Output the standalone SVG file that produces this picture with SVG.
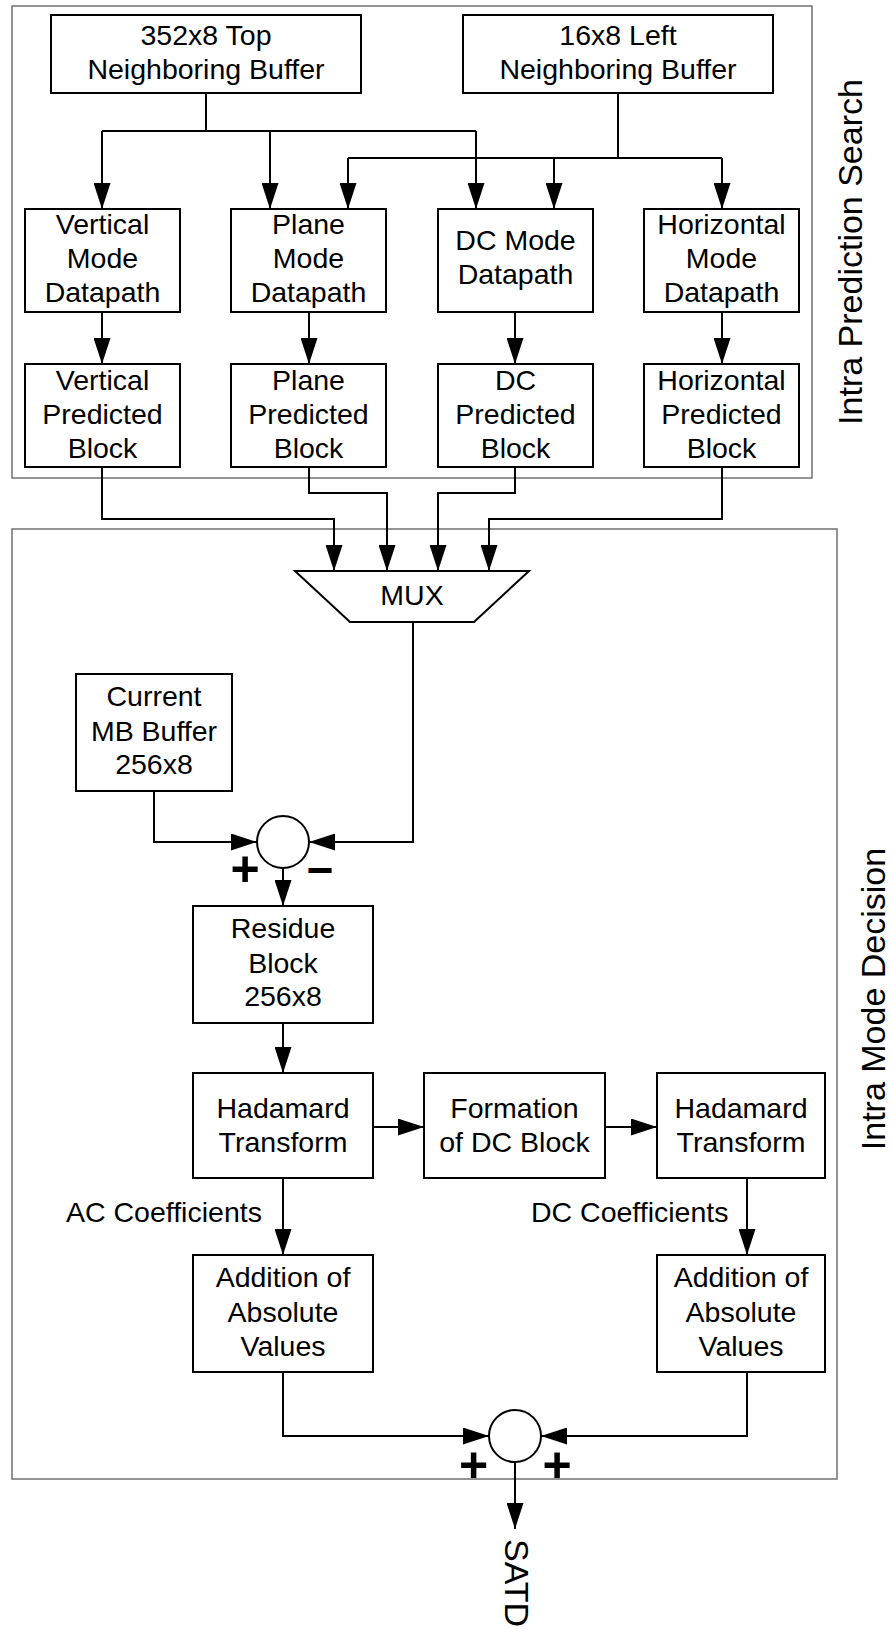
<svg xmlns="http://www.w3.org/2000/svg" width="891" height="1629" viewBox="0 0 891 1629">
  <style>
    .frame { fill: none; stroke: #707070; stroke-width: 1.5; }
    .box { fill: #ffffff; stroke: #000000; stroke-width: 2; }
    .wire { fill: none; stroke: #000000; stroke-width: 2; }
    .arrow { fill: none; stroke: #000000; stroke-width: 2; marker-end: url(#head); }
    .lbl { font-family: "Liberation Sans", Arial, sans-serif; font-size: 28.5px; fill: #000000; text-anchor: middle; }
    .side { font-family: "Liberation Sans", Arial, sans-serif; font-size: 34px; fill: #000000; text-anchor: middle; }
    .sign { font-family: "Liberation Sans", Arial, sans-serif; font-weight: bold; font-size: 50px; fill: #000000; text-anchor: middle; }
  </style>
  <defs>
    <marker id="head" viewBox="0 0 26 17" refX="26" refY="8.5" markerWidth="26" markerHeight="17" markerUnits="userSpaceOnUse" orient="auto">
      <path d="M0,0 L26,8.5 L0,17 Z" fill="#000000"/>
    </marker>
  </defs>

  <rect width="891" height="1629" fill="#ffffff"/>

  <!-- section frames -->
  <g id="frame-search">
    <rect class="frame" x="12" y="6" width="800" height="472"/>
    <text class="side" transform="translate(862,252) rotate(-90)">Intra Prediction Search</text>
  </g>
  <g id="frame-decision">
    <rect class="frame" x="12" y="529" width="825" height="950"/>
    <text class="side" transform="translate(885,999) rotate(-90)">Intra Mode Decision</text>
  </g>

  <!-- connectors -->
  <g id="connectors">
    <!-- top neighbouring buffer bus -->
    <path class="wire" d="M206,93 V131 M102,131 H476"/>
    <path class="arrow" d="M102,131 V209"/>
    <path class="arrow" d="M270,131 V209"/>
    <path class="arrow" d="M476,131 V209"/>
    <!-- left neighbouring buffer bus -->
    <path class="wire" d="M618,93 V158 M348,158 H722"/>
    <path class="arrow" d="M348,158 V209"/>
    <path class="arrow" d="M554,158 V209"/>
    <path class="arrow" d="M722,158 V209"/>
    <!-- datapath to predicted block -->
    <path class="arrow" d="M102,312 V364"/>
    <path class="arrow" d="M309,312 V364"/>
    <path class="arrow" d="M515,312 V364"/>
    <path class="arrow" d="M722,312 V364"/>
    <!-- predicted blocks into MUX -->
    <path class="arrow" d="M102,467 V519 H334 V571"/>
    <path class="arrow" d="M309,467 V493 H387 V571"/>
    <path class="arrow" d="M515,467 V493 H438 V571"/>
    <path class="arrow" d="M722,467 V519 H489 V571"/>
    <!-- subtraction -->
    <path class="arrow" d="M413,615 V842 H309"/>
    <path class="arrow" d="M154,791 V842 H257"/>
    <path class="arrow" d="M283,868 V906"/>
    <path class="arrow" d="M283,1023 V1073"/>
    <!-- transform chain -->
    <path class="arrow" d="M373,1127 H424"/>
    <path class="arrow" d="M605,1127 H657"/>
    <path class="arrow" d="M283,1178 V1255"/>
    <path class="arrow" d="M747,1178 V1255"/>
    <!-- final sum -->
    <path class="arrow" d="M283,1372 V1436 H489"/>
    <path class="arrow" d="M747,1372 V1436 H541"/>
    <path class="arrow" d="M515,1462 V1529"/>
  </g>

  <!-- buffers -->
  <g id="top-buffer">
    <rect class="box" x="51" y="15" width="310" height="78"/>
    <text class="lbl" x="206" y="45">352x8 Top</text>
    <text class="lbl" x="206" y="79">Neighboring Buffer</text>
  </g>
  <g id="left-buffer">
    <rect class="box" x="463" y="15" width="310" height="78"/>
    <text class="lbl" x="618" y="45">16x8 Left</text>
    <text class="lbl" x="618" y="79">Neighboring Buffer</text>
  </g>

  <!-- mode datapaths -->
  <g id="vertical-datapath">
    <rect class="box" x="25" y="209" width="155" height="103"/>
    <text class="lbl" x="102.5" y="234">Vertical</text>
    <text class="lbl" x="102.5" y="268">Mode</text>
    <text class="lbl" x="102.5" y="302">Datapath</text>
  </g>
  <g id="plane-datapath">
    <rect class="box" x="231" y="209" width="155" height="103"/>
    <text class="lbl" x="308.5" y="234">Plane</text>
    <text class="lbl" x="308.5" y="268">Mode</text>
    <text class="lbl" x="308.5" y="302">Datapath</text>
  </g>
  <g id="dc-datapath">
    <rect class="box" x="438" y="209" width="155" height="103"/>
    <text class="lbl" x="515.5" y="250">DC Mode</text>
    <text class="lbl" x="515.5" y="284">Datapath</text>
  </g>
  <g id="horizontal-datapath">
    <rect class="box" x="644" y="209" width="155" height="103"/>
    <text class="lbl" x="721.5" y="234">Horizontal</text>
    <text class="lbl" x="721.5" y="268">Mode</text>
    <text class="lbl" x="721.5" y="302">Datapath</text>
  </g>

  <!-- predicted blocks -->
  <g id="vertical-predicted">
    <rect class="box" x="25" y="364" width="155" height="103"/>
    <text class="lbl" x="102.5" y="390">Vertical</text>
    <text class="lbl" x="102.5" y="424">Predicted</text>
    <text class="lbl" x="102.5" y="458">Block</text>
  </g>
  <g id="plane-predicted">
    <rect class="box" x="231" y="364" width="155" height="103"/>
    <text class="lbl" x="308.5" y="390">Plane</text>
    <text class="lbl" x="308.5" y="424">Predicted</text>
    <text class="lbl" x="308.5" y="458">Block</text>
  </g>
  <g id="dc-predicted">
    <rect class="box" x="438" y="364" width="155" height="103"/>
    <text class="lbl" x="515.5" y="390">DC</text>
    <text class="lbl" x="515.5" y="424">Predicted</text>
    <text class="lbl" x="515.5" y="458">Block</text>
  </g>
  <g id="horizontal-predicted">
    <rect class="box" x="644" y="364" width="155" height="103"/>
    <text class="lbl" x="721.5" y="390">Horizontal</text>
    <text class="lbl" x="721.5" y="424">Predicted</text>
    <text class="lbl" x="721.5" y="458">Block</text>
  </g>

  <!-- multiplexer -->
  <g id="mux">
    <polygon class="box" points="295,571 529,571 474,622 350,622"/>
    <text class="lbl" x="412" y="605">MUX</text>
  </g>

  <g id="current-mb">
    <rect class="box" x="76" y="674" width="156" height="117"/>
    <text class="lbl" x="154" y="706">Current</text>
    <text class="lbl" x="154" y="741">MB Buffer</text>
    <text class="lbl" x="154" y="774">256x8</text>
  </g>

  <g id="subtractor">
    <circle class="box" cx="283" cy="842" r="26"/>
    <text class="sign" x="245" y="886">+</text>
    <text class="sign" x="320" y="886" style="font-size:46px">−</text>
  </g>

  <g id="residue">
    <rect class="box" x="193" y="906" width="180" height="117"/>
    <text class="lbl" x="283" y="938">Residue</text>
    <text class="lbl" x="283" y="973">Block</text>
    <text class="lbl" x="283" y="1006">256x8</text>
  </g>

  <g id="hadamard-ac">
    <rect class="box" x="193" y="1073" width="180" height="105"/>
    <text class="lbl" x="283" y="1118">Hadamard</text>
    <text class="lbl" x="283" y="1152">Transform</text>
  </g>
  <g id="dc-formation">
    <rect class="box" x="424" y="1073" width="181" height="105"/>
    <text class="lbl" x="514.5" y="1118">Formation</text>
    <text class="lbl" x="514.5" y="1152">of DC Block</text>
  </g>
  <g id="hadamard-dc">
    <rect class="box" x="657" y="1073" width="168" height="105"/>
    <text class="lbl" x="741" y="1118">Hadamard</text>
    <text class="lbl" x="741" y="1152">Transform</text>
  </g>

  <g id="coeff-labels">
    <text class="lbl" x="66" y="1222" style="text-anchor:start">AC Coefficients</text>
    <text class="lbl" x="531" y="1222" style="text-anchor:start">DC Coefficients</text>
  </g>

  <g id="abs-sum-ac">
    <rect class="box" x="193" y="1255" width="180" height="117"/>
    <text class="lbl" x="283" y="1287">Addition of</text>
    <text class="lbl" x="283" y="1322">Absolute</text>
    <text class="lbl" x="283" y="1356">Values</text>
  </g>
  <g id="abs-sum-dc">
    <rect class="box" x="657" y="1255" width="168" height="117"/>
    <text class="lbl" x="741" y="1287">Addition of</text>
    <text class="lbl" x="741" y="1322">Absolute</text>
    <text class="lbl" x="741" y="1356">Values</text>
  </g>

  <g id="adder">
    <circle class="box" cx="515" cy="1436" r="26"/>
    <text class="sign" x="473.5" y="1482">+</text>
    <text class="sign" x="557" y="1482">+</text>
  </g>

  <g id="satd">
    <text class="side" transform="translate(505,1539) rotate(90)" style="text-anchor:start">SATD</text>
  </g>
</svg>
